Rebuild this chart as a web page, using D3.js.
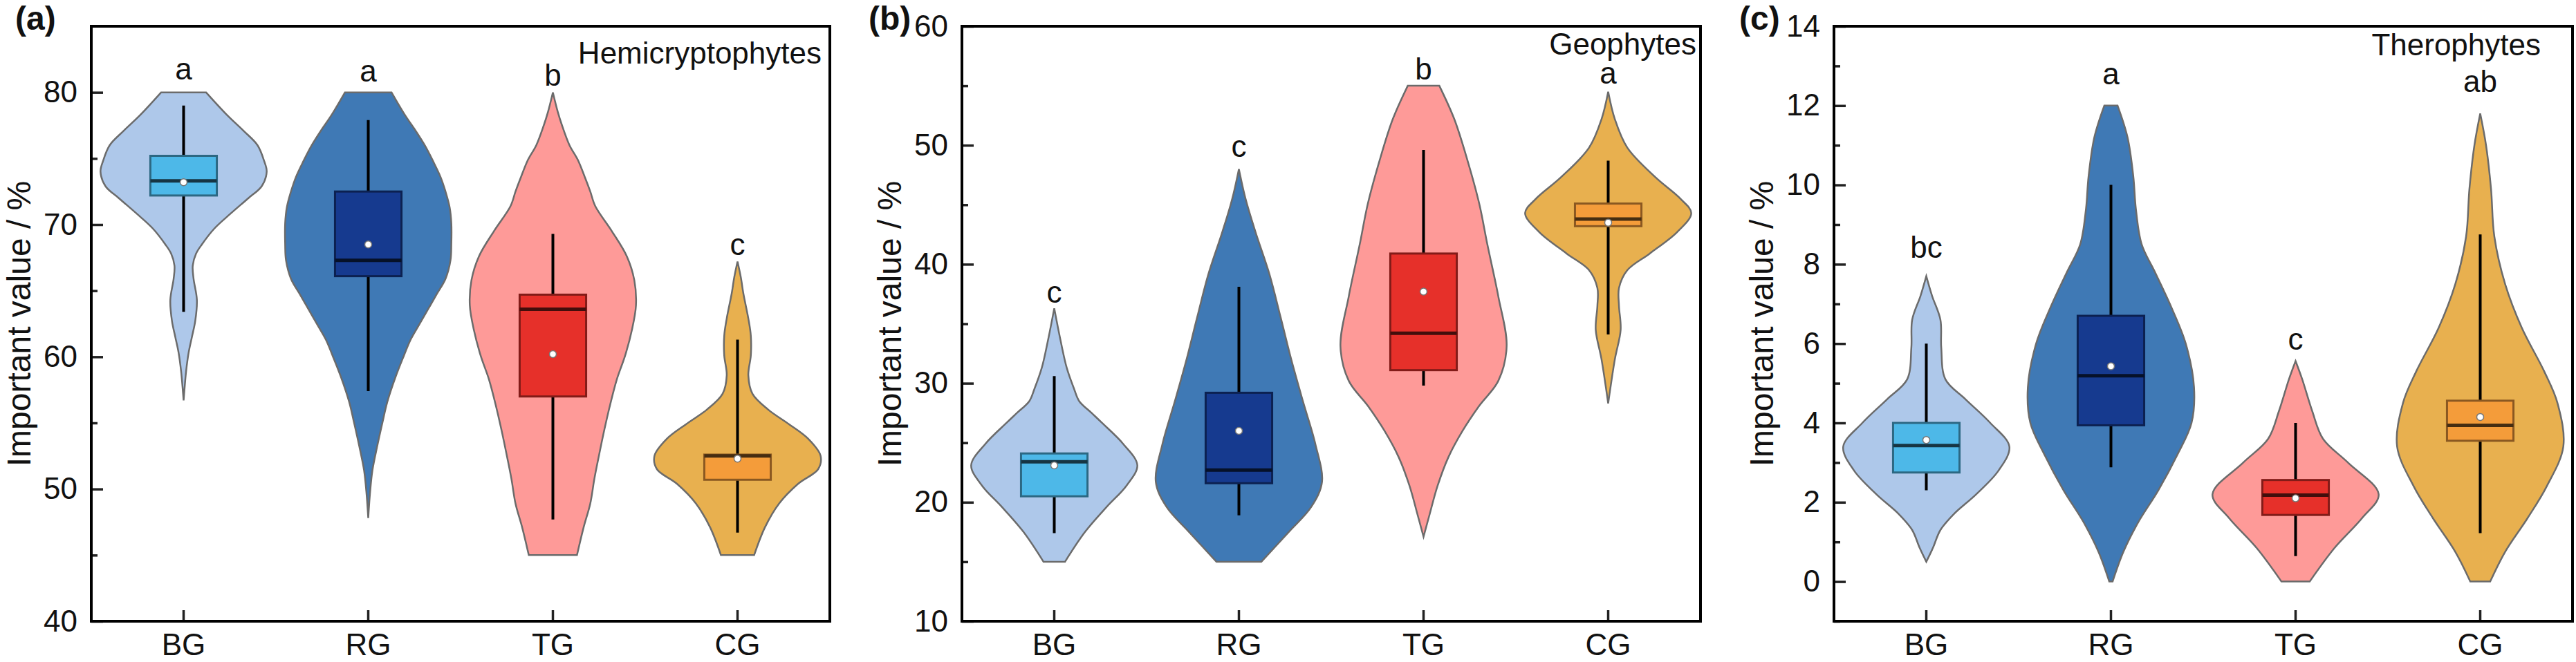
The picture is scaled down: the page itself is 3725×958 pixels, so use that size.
<!DOCTYPE html>
<html>
<head>
<meta charset="utf-8">
<script src="https://cdn.jsdelivr.net/npm/d3@7"></script>
<style>
  body { margin: 0; background: #fff; }
  text { font-family: "Liberation Sans", Arial, sans-serif; fill: #111; }
</style>
</head>
<body>
<div id="chart"></div>
<script>
const groups = ["BG", "RG", "TG", "CG"];
const violinColors = ["#aec8ea", "#3f79b5", "#fe9a98", "#e8b04f"];
const boxColors = ["#4db8e8", "#163a8f", "#e6302a", "#f49c3a"];

// violin outlines: [value, relative half-width 0..1]
const hemiProfiles = [
  [[80, .27], [78.3, .52], [77.1, .72], [76.0, .89], [74.8, .97], [74.0, 1], [72.9, .94], [72.0, .78], [70.8, .56], [69.7, .37], [68.5, .22], [67.8, .15], [66.9, .11], [65.9, .12], [64.3, .16], [62.7, .14], [61.5, .10], [60.3, .06], [58.9, .03], [57.5, .01], [56.7, 0]],
  [[80, .28], [78.3, .44], [77.1, .57], [76.0, .68], [74.8, .78], [73.6, .87], [72.5, .93], [71.3, .98], [70.1, 1], [68.5, 1], [67.3, .99], [65.9, .93], [64.8, .83], [63.6, .72], [62.4, .61], [61.3, .51], [60.1, .43], [58.5, .33], [56.6, .23], [55.0, .17], [53.3, .11], [51.4, .05], [49.6, .02], [47.8, 0]],
  [[80, 0], [78.5, .06], [77.5, .11], [76, .2], [74.9, .3], [73.5, .39], [72.5, .45], [71.4, .51], [69.5, .71], [67.6, .89], [65.8, .98], [63.9, 1], [62, .95], [60.1, .87], [58.3, .77], [56.4, .69], [54.5, .62], [52.7, .56], [50.8, .5], [48.9, .45], [47.1, .37], [45, .29]],
  [[67.2, 0], [66, .04], [64.8, .07], [62.9, .13], [61.6, .16], [60.1, .16], [58.6, .13], [57.2, .18], [56.0, .37], [54.9, .62], [53.8, .85], [52.5, 1], [51.5, .97], [50.4, .73], [48.9, .5], [47.1, .33], [45, .2]]
];
const geoProfiles = [
  [[36.3, 0], [33.8, .07], [31.3, .15], [29.5, .24], [28.5, .3], [27.5, .45], [26.7, .57], [24.9, .83], [23.1, 1], [21.4, .87], [19.6, .63], [17.5, .37], [15, .13]],
  [[48, 0], [45.5, .08], [42.7, .2], [39.1, .37], [35.6, .5], [32, .63], [28.5, .77], [24.9, .92], [21.7, 1], [19.6, .87], [17.5, .6], [15, .27]],
  [[55, .19], [52.2, .37], [48.7, .53], [45.1, .67], [41.6, .77], [37.3, .9], [33.1, 1], [30.2, .9], [28.1, .67], [26, .47], [23.8, .3], [21.4, .17], [18.9, .07], [17.1, 0]],
  [[54.5, 0], [52.2, .08], [49.8, .23], [47.3, .57], [45.5, .87], [44.3, 1], [42.7, .83], [40.9, .5], [39.5, .23], [38, .13], [36.5, .13], [34.5, .15], [32, .08], [28.3, 0]]
];
const theroProfiles = [
  [[7.7, 0], [7.2, .07], [6.6, .17], [5.9, .18], [5.1, .23], [4.6, .47], [4, .77], [3.4, 1], [2.8, .87], [2.2, .6], [1.7, .33], [1.3, .17], [.85, .08], [.5, 0]],
  [[12, .08], [11.2, .2], [10.2, .27], [9.4, .3], [8.5, .37], [7.8, .53], [6.9, .73], [6, .9], [4.9, 1], [4, .97], [3.2, .8], [2.3, .57], [1.5, .33], [.75, .15], [0, .02]],
  [[5.56, 0], [5.1, .08], [4.3, .2], [3.6, .33], [3, .63], [2.2, 1], [1.6, .8], [.85, .47], [0, .17]],
  [[11.8, 0], [11, .07], [9.9, .13], [8.7, .17], [7.5, .3], [6.4, .5], [5.3, .77], [4.5, .93], [3.4, 1], [2.4, .8], [1.6, .57], [.75, .3], [0, .12]]
];

// box stats: [whisker low, q1, median, q3, whisker high, mean]
const hemiBoxes = [[63.4, 72.2, 73.3, 75.2, 79.0, 73.2], [57.4, 66.1, 67.3, 72.5, 77.9, 68.5], [47.7, 57.0, 63.6, 64.7, 69.3, 60.2], [46.7, 50.7, 52.5, 52.6, 61.3, 52.3]];
const geoBoxes = [[17.4, 20.5, 23.4, 24.1, 30.6, 23.1], [18.9, 21.6, 22.7, 29.2, 38.1, 26.0], [29.8, 31.1, 34.2, 40.9, 49.6, 37.7], [34.1, 43.2, 43.8, 45.1, 48.7, 43.5]];
const theroBoxes = [[2.3, 2.75, 3.43, 4.0, 6.0, 3.57], [2.88, 3.94, 5.19, 6.7, 10.0, 5.43], [0.64, 1.68, 2.18, 2.56, 4.0, 2.1], [1.22, 3.55, 3.94, 4.56, 8.75, 4.15]];

// significance letters and the value they sit at
const hemiLetters = ["a", "a", "b", "c"];
const hemiLetterAt = [81.0, 80.8, 80.5, 67.7];
const geoLetters = ["c", "c", "b", "a"];
const geoLetterAt = [36.8, 49.0, 55.5, 55.2];
const theroLetters = ["bc", "a", "c", "ab"];
const theroLetterAt = [8.16, 12.54, 5.84, 12.35];

const W = 3725, H = 958;
const plotTop = 38, plotBottom = 899, pw = 1068;

const panels = [
  { tag: "(a)", name: "Hemicryptophytes", left: 132, domain: [40, 85], major: d3.range(40, 81, 10), minor: d3.range(45, 86, 10),
    profiles: hemiProfiles, boxes: hemiBoxes, letters: hemiLetters, letterAt: hemiLetterAt, tagDx: 110, nameDx: 12, nameY: 92 },
  { tag: "(b)", name: "Geophytes", left: 1391, domain: [10, 60], major: d3.range(10, 61, 10), minor: d3.range(15, 60, 10),
    profiles: geoProfiles, boxes: geoBoxes, letters: geoLetters, letterAt: geoLetterAt, tagDx: 135, nameDx: 6, nameY: 79 },
  { tag: "(c)", name: "Therophytes", left: 2652, domain: [-1, 14], major: d3.range(0, 15, 2), minor: d3.range(-1, 14, 2),
    profiles: theroProfiles, boxes: theroBoxes, letters: theroLetters, letterAt: theroLetterAt, tagDx: 137, nameDx: 46, nameY: 80 }
];

const svg = d3.select("#chart").append("svg").attr("width", W).attr("height", H);

panels.forEach((p) => {
  const g = svg.append("g").attr("transform", `translate(${p.left},${plotTop})`);
  const h = plotBottom - plotTop;

  const x = d3.scaleBand().domain(groups).range([0, pw]);
  const y = d3.scaleLinear().domain(p.domain).range([h, 0]);
  const w = d3.scaleLinear().domain([0, 1]).range([0, x.bandwidth() * 0.45]);
  const boxHalf = x.bandwidth() * 0.18;

  groups.forEach((grp, i) => {
    const cx = x(grp) + x.bandwidth() / 2;
    const area = d3.area()
      .y((d) => y(d[0]))
      .x0((d) => cx - w(d[1]))
      .x1((d) => cx + w(d[1]))
      .curve(d3.curveCatmullRom.alpha(0.5));

    g.append("path")
      .attr("d", area(p.profiles[i]))
      .attr("fill", violinColors[i])
      .attr("stroke", "#6b6b6b")
      .attr("stroke-width", 2.5);

    const [lo, q1, med, q3, hi, mean] = p.boxes[i];
    g.append("line")
      .attr("x1", cx).attr("x2", cx)
      .attr("y1", y(lo)).attr("y2", y(hi))
      .attr("stroke", "#000").attr("stroke-width", 4);

    g.append("rect")
      .attr("x", cx - boxHalf).attr("width", boxHalf * 2)
      .attr("y", y(q3)).attr("height", y(q1) - y(q3))
      .attr("fill", boxColors[i])
      .attr("stroke", d3.color(boxColors[i]).darker(1.6))
      .attr("stroke-width", 3);

    g.append("line")
      .attr("x1", cx - boxHalf).attr("x2", cx + boxHalf)
      .attr("y1", y(med)).attr("y2", y(med))
      .attr("stroke", d3.color(boxColors[i]).darker(3.5))
      .attr("stroke-width", 5);

    g.append("circle")
      .attr("cx", cx).attr("cy", y(mean)).attr("r", 5)
      .attr("fill", "#fff").attr("stroke", "#777").attr("stroke-width", 1.5);

    g.append("text")
      .attr("x", cx).attr("y", y(p.letterAt[i]))
      .attr("text-anchor", "middle")
      .style("font-size", "44px")
      .text(p.letters[i]);
  });

  // axes: ticks point inward
  const ya = g.append("g").call(d3.axisLeft(y).tickValues(p.major).tickSize(-17).tickPadding(20));
  const ym = g.append("g").call(d3.axisLeft(y).tickValues(p.minor.filter((v) => v < p.domain[1])).tickSize(-9).tickFormat(""));
  const xa = g.append("g").attr("transform", `translate(0,${h})`)
    .call(d3.axisBottom(x).tickSize(-16).tickPadding(18));
  [ya, ym, xa].forEach((a) => {
    a.select(".domain").remove();
    a.selectAll(".tick line").attr("stroke", "#222").attr("stroke-width", 3.5);
    a.selectAll("text").style("font-size", "44px").attr("fill", "#111")
      .style("font-family", '"Liberation Sans", Arial, sans-serif');
  });

  g.append("rect")
    .attr("width", pw).attr("height", h)
    .attr("fill", "none").attr("stroke", "#000").attr("stroke-width", 4);

  g.append("text")
    .attr("x", pw - p.nameDx).attr("y", p.nameY - plotTop)
    .attr("text-anchor", "end")
    .style("font-size", "44px")
    .text(p.name);

  g.append("text")
    .attr("transform", `translate(-88,${h / 2}) rotate(-90)`)
    .attr("text-anchor", "middle")
    .style("font-size", "48px")
    .text("Important value / %");

  svg.append("text")
    .attr("x", p.left - p.tagDx).attr("y", 43)
    .style("font-size", "48px").style("font-weight", "bold")
    .text(p.tag);
});
</script>
</body>
</html>
